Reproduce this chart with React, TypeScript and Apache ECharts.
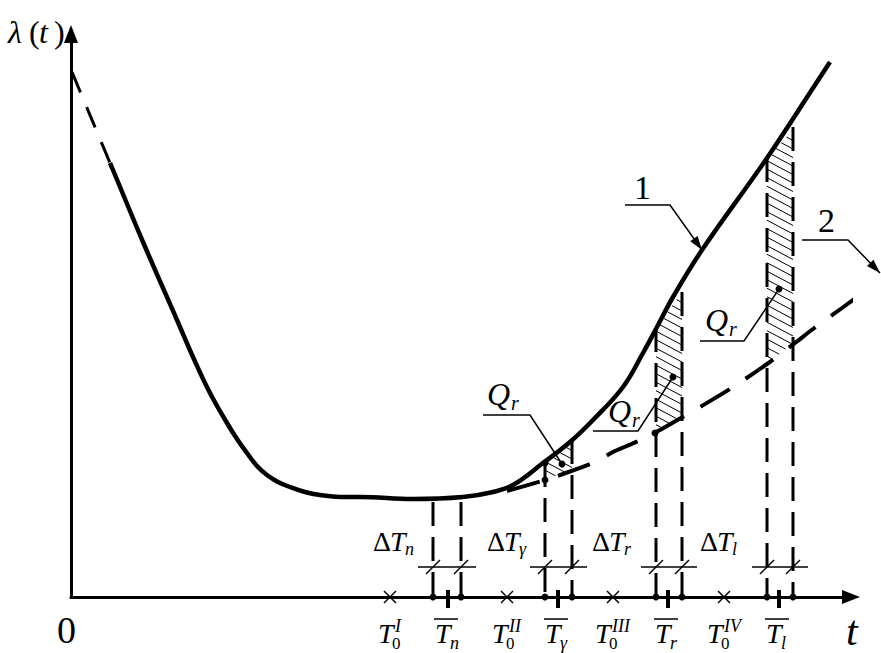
import React, { useEffect, useRef } from 'react';
import * as echarts from 'echarts';

const SERIF = 'Liberation Serif';

// Curve 1 (solid) and its dashed extrapolation toward t = 0
const curve1LeadT = [1, 39];
const curve1LeadL = [525, 434];
const curve1T = [39, 42, 72, 106, 122, 139, 156, 166, 176, 186, 196, 207, 219, 234, 249, 269, 289, 342, 392, 422, 442, 472, 499, 522, 552, 572, 586, 602, 631, 696, 744, 759];
const curve1L = [434, 427, 355, 277, 240, 204, 174, 158, 144, 131, 122, 115, 110, 105, 102, 100, 100, 98, 100, 105, 112, 134, 155, 177, 210, 244, 270, 300, 347, 439, 512, 535];
// Curve 2 (dashed)
const curve2T = [436, 474, 492, 524, 544, 572, 596, 629, 659, 696, 724, 742, 771, 809];
const curve2L = [106, 117, 123, 135, 146, 158, 171, 190, 208, 233, 254, 268, 289, 317];

// Vertical dashed lines (pairs bounding each interval)
const verticalT = [362, 390, 474, 501, 585, 611, 696, 722];
const verticalTop = [95, 95, 134, 157, 269, 305, 439, 470];

// Hatched areas Q_r between curve 1 and curve 2
const hatchStartT = [474, 585, 696];
const hatchEndT = [501, 611, 722];
const hatchTopStart = [134, 269, 439];
const hatchTopEnd = [157, 305, 467];
const hatchBottomStart = [117, 164, 233];
const hatchBottomEnd = [128, 183, 254];

// Dimension lines ΔT
const dimensionLevel = 30;
const deltaLabelT = [302, 416, 521, 629];
const deltaLabelLevel = 56;
const deltaSubs = ['n', 'γ', 'r', 'l'];

// Axis marks
const zeroPointT = [319, 436, 542, 653];
const zeroPointSup = ['I', 'II', 'III', 'IV'];
const meanT = [377, 487, 597, 708];
const meanSub = ['n', 'γ', 'r', 'l'];

// Marked points on the curves
const markedT = [474, 474, 584];
const markedL = [134, 117, 164];

// Q_r leaders: underline start, underline end, dot
const qLeaderT = [[412, 459, 491], [522, 567, 602], [629, 673, 708]];
const qLeaderL = [[182, 182, 133], [166, 166, 220], [256, 256, 308]];
const qLabelT = [416, 537, 634];
const qLabelL = [203, 186, 277];

// Curve number leaders (with arrow)
const curveLeaderT = [[554, 599, 631], [731, 777, 809]];
const curveLeaderL = [[392, 392, 347], [357, 357, 324]];
const curveLabels = ['1', '2'];
const curveLabelT = [571, 755];
const curveLabelL = [410, 377];

// Axis titles
const originLabel = [-5, -33];
const timeLabel = [781, -34];
const rateLabel = [-63, 565];

const zip = (a: number[], b: number[]) => a.map((v, i) => [v, b[i]]);

function renderDecor(_params: any, api: any) {
  const c = (t: number, l: number) => api.coord([t, l]);
  const ch: any[] = [];
  const line = (a: number[], b: number[], w: number, dash?: number[]) =>
    ch.push({
      type: 'line',
      shape: { x1: a[0], y1: a[1], x2: b[0], y2: b[1] },
      style: { stroke: '#000', lineWidth: w, lineDash: dash || null, fill: null },
    });
  const dot = (p: number[], r = 3.5) =>
    ch.push({ type: 'circle', shape: { cx: p[0], cy: p[1], r }, style: { fill: '#000' } });

  // hatch
  hatchStartT.forEach((t1, i) => {
    const A = c(t1, hatchTopStart[i]);
    const B = c(hatchEndT[i], hatchTopEnd[i]);
    const C = c(t1, hatchBottomStart[i]);
    const D = c(hatchEndT[i], hatchBottomEnd[i]);
    const w = B[0] - A[0];
    const mt = (B[1] - A[1]) / w;
    const mb = (D[1] - C[1]) / w;
    const s = 0.53;
    const step = 8.5;
    const cStart = Math.min(A[1], B[1] - s * w);
    for (let cc = cStart + 2; cc <= C[1]; cc += step) {
      let lo = 0;
      let hi = w;
      const apply = (a: number, b: number) => {
        if (Math.abs(b) < 1e-9) {
          if (a < 0) hi = -1;
        } else if (b > 0) lo = Math.max(lo, -a / b);
        else hi = Math.min(hi, -a / b);
      };
      apply(cc - A[1], s - mt);
      apply(C[1] - cc, mb - s);
      if (hi - lo > 0.5) {
        line([A[0] + lo, cc + s * lo], [A[0] + hi, cc + s * hi], 1);
      }
    }
  });

  // vertical dashed lines
  verticalT.forEach((t, i) => {
    line(c(t, verticalTop[i]), c(t, 0), 3, [24, 11]);
  });

  // dimension lines with slashes
  for (let i = 0; i < verticalT.length; i += 2) {
    const a = c(verticalT[i], dimensionLevel);
    const b = c(verticalT[i + 1], dimensionLevel);
    line([a[0] - 15, a[1]], [b[0] + 15, b[1]], 1.5);
    [a, b].forEach((p) => line([p[0] - 7, p[1] + 7], [p[0] + 7, p[1] - 7], 1.5));
  }

  // axis dots
  verticalT.forEach((t) => dot(c(t, 0)));

  // crosses at T0
  zeroPointT.forEach((t) => {
    const p = c(t, 0);
    line([p[0] - 6, p[1] - 6], [p[0] + 6, p[1] + 6], 1.5);
    line([p[0] - 6, p[1] + 6], [p[0] + 6, p[1] - 6], 1.5);
  });

  // thick ticks at mean times + overbars of their labels
  meanT.forEach((t) => {
    const p = c(t, 0);
    line([p[0], p[1] - 7], [p[0], p[1] + 11], 4);
    const tc = p[0] - 5;
    line([tc - 9, p[1] + 22], [tc + 15, p[1] + 22], 1.5);
  });

  // marked points
  markedT.forEach((t, i) => dot(c(t, markedL[i])));

  // Q leaders
  qLeaderT.forEach((ts, i) => {
    const pts = ts.map((t, k) => c(t, qLeaderL[i][k]));
    ch.push({ type: 'polyline', shape: { points: pts }, style: { stroke: '#000', lineWidth: 1.5, fill: null } });
    dot(pts[2]);
  });

  // curve number leaders with arrow heads
  curveLeaderT.forEach((ts, i) => {
    const pts = ts.map((t, k) => c(t, curveLeaderL[i][k]));
    ch.push({ type: 'polyline', shape: { points: pts }, style: { stroke: '#000', lineWidth: 1.5, fill: null } });
    const tip = pts[2];
    const dx = tip[0] - pts[1][0];
    const dy = tip[1] - pts[1][1];
    const len = Math.hypot(dx, dy);
    const ux = dx / len;
    const uy = dy / len;
    const bx = tip[0] - ux * 14;
    const by = tip[1] - uy * 14;
    ch.push({
      type: 'polygon',
      shape: { points: [tip, [bx - uy * 4.5, by + ux * 4.5], [bx + uy * 4.5, by - ux * 4.5]] },
      style: { fill: '#000' },
    });
  });

  return { type: 'group', children: ch };
}

function buildTexts(c: (t: number, l: number) => number[]) {
  const out: any[] = [];
  const canvas = document.createElement('canvas');
  const ctx = canvas.getContext('2d');
  const measure = (s: string, font: string) => {
    if (!ctx) return s.length * 10;
    ctx.font = font;
    return ctx.measureText(s).width;
  };
  // x: left edge (or centre when centred), y: vertical centre of the text box
  const text = (x: number, y: number, s: string, size: number, italic: boolean, centred = false) => {
    const font = `${italic ? 'italic ' : ''}${size}px ${SERIF}`;
    const w = measure(s, font);
    out.push({
      type: 'text',
      left: Math.round(centred ? x - w / 2 : x),
      top: Math.round(y - size / 2),
      style: { text: s, font, fill: '#000' },
    });
  };

  qLabelT.forEach((t, i) => {
    const q = c(t, qLabelL[i]);
    text(q[0], q[1], 'Q', 32, true);
    text(q[0] + 24, q[1] + 9, 'r', 20, true);
  });

  curveLabelT.forEach((t, i) => {
    const lp = c(t, curveLabelL[i]);
    text(lp[0], lp[1], curveLabels[i], 34, false, true);
  });

  deltaLabelT.forEach((t, i) => {
    const p = c(t, deltaLabelLevel);
    text(p[0], p[1], 'Δ', 28, false);
    text(p[0] + 17, p[1], 'T', 28, true);
    text(p[0] + 32, p[1] + 8, deltaSubs[i], 18, true);
  });

  zeroPointT.forEach((t, i) => {
    const p = c(t, 0);
    const sup = zeroPointSup[i];
    const supW = sup.split('').reduce((s, ch2) => s + (ch2 === 'I' ? 6 : 10), 0);
    const tc = p[0] - supW / 2 - 1;
    text(tc, p[1] + 35.5, 'T', 28, true, true);
    text(tc + 9, p[1] + 28.5, sup, 18, true);
    text(tc + 6, p[1] + 46, '0', 17, false);
  });

  meanT.forEach((t, i) => {
    const p = c(t, 0);
    const tc = p[0] - 5;
    text(tc, p[1] + 35.5, 'T', 28, true, true);
    text(tc + 7, p[1] + 46, meanSub[i], 18, true);
  });

  const o = c(originLabel[0], originLabel[1]);
  text(o[0], o[1], '0', 38, false, true);
  const tl = c(timeLabel[0], timeLabel[1]);
  text(tl[0], tl[1], 't', 42, true, true);
  const rl = c(rateLabel[0], rateLabel[1]);
  text(rl[0], rl[1], 'λ', 32, true);
  text(rl[0] + 21, rl[1], '(', 32, false);
  text(rl[0] + 31, rl[1], 't', 32, true);
  text(rl[0] + 46, rl[1], ')', 32, false);
  return out;
}

function buildOption() {
  const axisBase = {
    type: 'value',
    axisLine: {
      show: true,
      onZero: false,
      lineStyle: { color: '#000', width: 3 },
      symbol: ['none', 'triangle'],
      symbolSize: [14, 18],
    },
    axisTick: { show: false },
    axisLabel: { show: false },
    splitLine: { show: false },
  };
  return {
    animation: false,
    backgroundColor: '#fff',
    grid: { left: 71, right: 30, top: 34, bottom: 56 },
    xAxis: { ...axisBase, min: 0, max: 780 },
    yAxis: { ...axisBase, min: 0, max: 563 },
    series: [
      {
        type: 'line',
        data: zip(curve1LeadT, curve1LeadL),
        symbol: 'none',
        clip: false,
        lineStyle: { color: '#000', width: 3, type: [22, 16] },
        z: 2,
      },
      {
        type: 'line',
        data: zip(curve1T, curve1L),
        smooth: 0.4,
        symbol: 'none',
        clip: false,
        lineStyle: { color: '#000', width: 4.5 },
        z: 2,
      },
      {
        type: 'line',
        data: zip(curve2T, curve2L),
        smooth: 0.3,
        symbol: 'none',
        clip: false,
        lineStyle: { color: '#000', width: 4, type: [34, 19] },
        z: 2,
      },
      {
        type: 'custom',
        data: [[0, 0]],
        renderItem: renderDecor,
        clip: false,
        silent: true,
        z: 3,
      },
    ],
  };
}

export default function App() {
  const ref = useRef<HTMLDivElement>(null);
  useEffect(() => {
    if (!ref.current) return;
    const chart = echarts.init(ref.current, null, { renderer: 'svg' });
    chart.setOption(buildOption() as any);
    const toPx = (t: number, l: number) =>
      chart.convertToPixel({ gridIndex: 0 }, [t, l]) as unknown as number[];
    chart.setOption({ graphic: buildTexts(toPx) } as any);
    return () => chart.dispose();
  }, []);
  return (
    <div
      ref={ref}
      style={{ position: 'absolute', left: 0, top: 0, width: 881, height: 653, background: '#fff' }}
    />
  );
}
